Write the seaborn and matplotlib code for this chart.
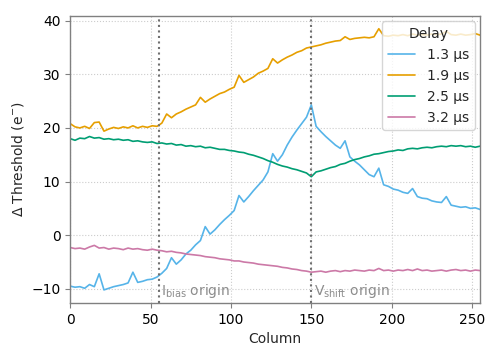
import matplotlib
matplotlib.use('Agg')
import matplotlib.pyplot as plt
import numpy as np
import pandas as pd
import seaborn as sns

# column index, sampled every 3 columns
columns = list(range(0, 256, 3))

delays = ['1.3 µs', '1.9 µs', '2.5 µs', '3.2 µs']

thr_1p3 = [-9.5, -9.7, -9.6, -9.9, -9.2, -9.6, -7.2, -10.2, -9.9, -9.6,
           -9.4, -9.2, -8.9, -6.9, -8.8, -8.6, -8.3, -8.2, -7.8, -7.1,
           -6.2, -4.2, -5.4, -4.6, -3.5, -2.8, -1.8, -1.0, 1.6, 0.2,
           1.0, 2.0, 2.9, 3.7, 4.6, 7.4, 6.2, 7.2, 8.3, 9.3,
           10.3, 11.8, 15.2, 13.8, 15.0, 16.8, 18.3, 19.6, 20.8, 22.0,
           24.3, 20.3, 19.3, 18.4, 17.6, 16.8, 16.2, 17.6, 14.6, 13.8,
           13.1, 12.2, 11.3, 10.9, 12.5, 9.4, 9.1, 8.6, 8.4, 8.0,
           7.8, 8.7, 7.2, 6.9, 6.8, 6.4, 6.2, 6.1, 7.2, 5.6,
           5.4, 5.2, 5.3, 5.0, 5.1, 4.8]

thr_1p9 = [20.8, 20.2, 20.0, 20.3, 19.9, 21.0, 21.1, 19.4, 19.8, 20.1,
           19.9, 20.2, 20.0, 20.4, 20.0, 20.3, 20.1, 20.4, 20.3, 20.9,
           22.6, 21.9, 22.6, 23.0, 23.5, 23.9, 24.3, 25.7, 24.8, 25.4,
           25.9, 26.4, 26.7, 27.2, 27.6, 29.8, 28.5, 29.0, 29.5, 30.2,
           30.6, 31.1, 32.9, 32.1, 32.7, 33.2, 33.6, 34.1, 34.4, 34.9,
           35.1, 35.3, 35.5, 35.8, 36.0, 36.2, 36.3, 37.0, 36.5, 36.7,
           36.8, 36.9, 36.8, 37.0, 38.5, 37.2, 37.1, 37.3, 37.2, 37.4,
           37.2, 37.5, 37.3, 37.4, 37.3, 37.5, 37.4, 37.5, 38.0, 37.4,
           37.3, 37.5, 37.3, 37.4, 37.6, 37.3]

thr_2p5 = [18.0, 17.7, 18.1, 18.0, 18.4, 18.1, 18.2, 17.9, 18.0, 17.8,
           17.9, 17.7, 17.8, 17.5, 17.6, 17.4, 17.3, 17.4, 17.1, 17.2,
           17.0, 17.1, 16.8, 16.9, 16.6, 16.7, 16.5, 16.6, 16.3, 16.4,
           16.2, 16.0, 16.0, 15.8, 15.7, 15.5, 15.4, 15.1, 14.9, 14.6,
           14.3, 13.9, 13.6, 13.2, 12.9, 12.7, 12.4, 12.2, 11.9, 11.6,
           10.9, 11.8, 12.0, 12.3, 12.6, 12.8, 13.2, 13.4, 13.8, 14.1,
           14.3, 14.6, 14.8, 15.1, 15.2, 15.4, 15.6, 15.7, 15.9, 15.8,
           16.1, 16.2, 16.1, 16.3, 16.4, 16.3, 16.5, 16.6, 16.5, 16.7,
           16.6, 16.7, 16.5, 16.6, 16.4, 16.6]

thr_3p2 = [-2.3, -2.5, -2.4, -2.6, -2.2, -1.9, -2.4, -2.3, -2.6, -2.4,
           -2.5, -2.7, -2.4, -2.6, -2.5, -2.7, -2.8, -2.6, -2.8, -2.9,
           -3.1, -3.0, -3.2, -3.3, -3.5, -3.6, -3.7, -3.8, -4.0, -4.1,
           -4.2, -4.4, -4.5, -4.6, -4.8, -4.8, -5.0, -5.1, -5.2, -5.4,
           -5.5, -5.6, -5.7, -5.8, -6.0, -6.1, -6.3, -6.4, -6.6, -6.7,
           -6.9, -6.8, -6.7, -6.9, -6.7, -6.6, -6.8, -6.6, -6.7, -6.5,
           -6.6, -6.7, -6.5, -6.6, -6.2, -6.6, -6.5, -6.7, -6.5, -6.6,
           -6.4, -6.6, -6.3, -6.6, -6.5, -6.7, -6.6, -6.5, -6.7, -6.5,
           -6.4, -6.6, -6.5, -6.7, -6.5, -6.6]

colors = ['#56B4E9', '#E69F00', '#009E73', '#CC79A7']

ibias_origin = 55
vshift_origin = 150

frames = []
for name, vals in zip(delays, [thr_1p3, thr_1p9, thr_2p5, thr_3p2]):
    frames.append(pd.DataFrame({'Column': columns, 'thr': vals, 'Delay': name}))
df = pd.concat(frames, ignore_index=True)

sns.set_style("whitegrid", {'grid.linestyle': ':', 'grid.color': '#cccccc',
                            'axes.edgecolor': '#808080', 'xtick.bottom': True,
                            'ytick.left': True, 'xtick.color': '#808080',
                            'ytick.color': '#808080'})
plt.rcParams['font.family'] = ['DejaVu Sans']

fig, ax = plt.subplots(figsize=(4.98, 3.56), dpi=100)
fig.subplots_adjust(left=0.141, right=0.964, bottom=0.149, top=0.956)

sns.lineplot(data=df, x='Column', y='thr', hue='Delay', palette=colors,
             linewidth=1.2, ax=ax)

ax.axvline(ibias_origin, color='#707070', linestyle=':', linewidth=1.5)
ax.axvline(vshift_origin, color='#707070', linestyle=':', linewidth=1.5)
ax.set_xlim(0, 255)

ymin, ymax = ax.get_ylim()
ax.text(ibias_origin + 1.5, ymin + 0.5, r'I$_{\mathrm{bias}}$ origin',
        color='#8c8c8c', fontsize=10, va='bottom')
ax.text(vshift_origin + 1.5, ymin + 0.5, r'V$_{\mathrm{shift}}$ origin',
        color='#8c8c8c', fontsize=10, va='bottom')

ax.set_xlabel('Column', fontsize=10)
ax.set_ylabel('Δ Threshold (e$^{-}$)', fontsize=10)
ax.tick_params(labelcolor='black', labelsize=10, length=3.5, width=0.8)
for s in ax.spines.values():
    s.set_linewidth(1.0)

leg = ax.legend(title='Delay', loc='upper right', fontsize=10, title_fontsize=10,
                framealpha=0.8, borderaxespad=0.4)

fig.savefig('out.png', dpi=100)
